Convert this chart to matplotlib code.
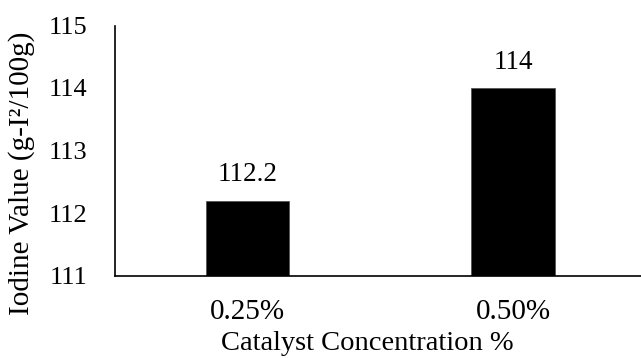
import matplotlib
matplotlib.use("Agg")
import matplotlib.pyplot as plt

categories = ["0.25%", "0.50%"]
iodine_values = [112.2, 114]
y_ticks = [111, 112, 113, 114, 115]

plt.rcParams['font.family'] = ['Liberation Serif', 'DejaVu Serif']
plt.rcParams['font.size'] = 19

fig = plt.figure(figsize=(6.41, 3.58), dpi=100)
ax = fig.add_axes([115 / 641, 82.5 / 358, 526 / 641, 250 / 358])

x = list(range(len(categories)))
bars = ax.bar(x, iodine_values, width=0.313, color='black', edgecolor='#555555', linewidth=0.6)
ax.bar_label(bars, labels=[f"{v:g}" for v in iodine_values], padding=9.5, fontsize=19.5)

ax.set_ylim(111, 115)
ax.set_xlim(-0.499, 1.482)
ax.set_yticks(y_ticks)
ax.set_xticks(x)
ax.set_xticklabels(categories, fontsize=21)
ax.tick_params(axis='both', length=0)
ax.tick_params(axis='y', pad=20)
ax.tick_params(axis='x', pad=17)

for side in ['top', 'right']:
    ax.spines[side].set_visible(False)
for side in ['left', 'bottom']:
    ax.spines[side].set_linewidth(1.2)
    ax.spines[side].set_color('black')

fig.text(367 / 641, 1 - 344 / 358, 'Catalyst Concentration %', ha='center', va='center', fontsize=20.5)
fig.text(22 / 641, 1 - 173.5 / 358, 'Iodine Value (g-I²/100g)', rotation=90,
         ha='center', va='center', fontsize=21)

fig.savefig('out.png', dpi=100)
